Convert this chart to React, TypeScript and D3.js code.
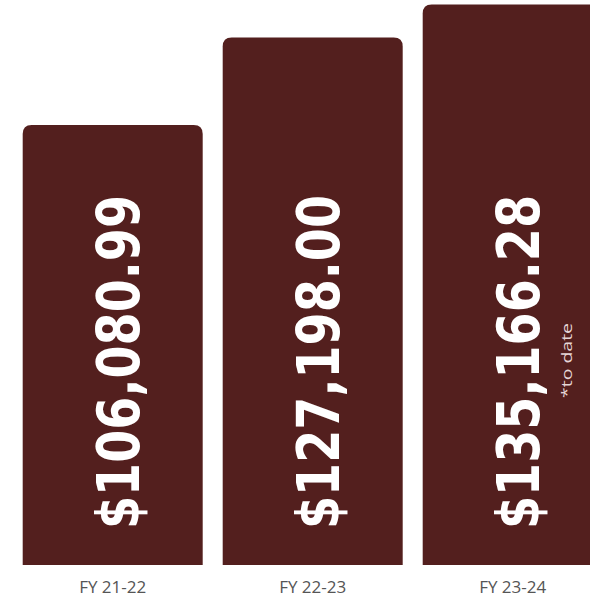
import React from "react";
import * as d3 from "d3";

const categories = ["FY 21-22", "FY 22-23", "FY 23-24"];
const values = [106080.99, 127198.0, 135166.28];
const valueLabels = ["$106,080.99", "$127,198.00", "$135,166.28"];
const notes = ["", "", "*to date"];

const W = 590;
const H = 597;
const BAR_COLOR = "#531f1e";

function topRoundedRect(x: number, y: number, w: number, h: number, r: number) {
  return `M${x},${y + h}V${y + r}Q${x},${y} ${x + r},${y}H${x + w - r}Q${x + w},${y} ${x + w},${y + r}V${y + h}Z`;
}

export default function App() {
  const x = d3
    .scaleBand<string>()
    .domain(categories)
    .range([12.7, 612.7])
    .paddingInner(0.1)
    .paddingOuter(0.05);
  const y = d3.scaleLinear().domain([0, 136240]).range([565, 0]);
  const bw = x.bandwidth();

  return (
    <svg
      width={W}
      height={H}
      style={{ position: "absolute", left: 0, top: 0, background: "#ffffff" }}
    >
      {categories.map((c, i) => {
        const x0 = x(c)!;
        const cx = x0 + bw / 2;
        const top = y(values[i]);
        return (
          <g key={c}>
            <path d={topRoundedRect(x0, top, bw, y(0) - top, 9)} fill={BAR_COLOR} />
            <text
              transform={`translate(${cx + 26},${y(0) - 36}) rotate(-90)`}
              fill="#ffffff"
              fontFamily="'DejaVu Sans', sans-serif"
              fontWeight="bold"
              fontSize={58}
              textLength={334}
              lengthAdjust="spacingAndGlyphs"
            >
              {valueLabels[i]}
            </text>
            {notes[i] && (
              <text
                transform={`translate(${cx + 59},${398}) rotate(-90)`}
                fill="#e6d6d6"
                fontFamily="'Open Sans', sans-serif"
                fontSize={15}
                textLength={75}
                lengthAdjust="spacingAndGlyphs"
              >
                {notes[i]}
              </text>
            )}
            <text
              x={cx}
              y={593}
              textAnchor="middle"
              fill="#555555"
              fontFamily="'Open Sans', sans-serif"
              fontSize={17}
            >
              {c}
            </text>
          </g>
        );
      })}
    </svg>
  );
}
